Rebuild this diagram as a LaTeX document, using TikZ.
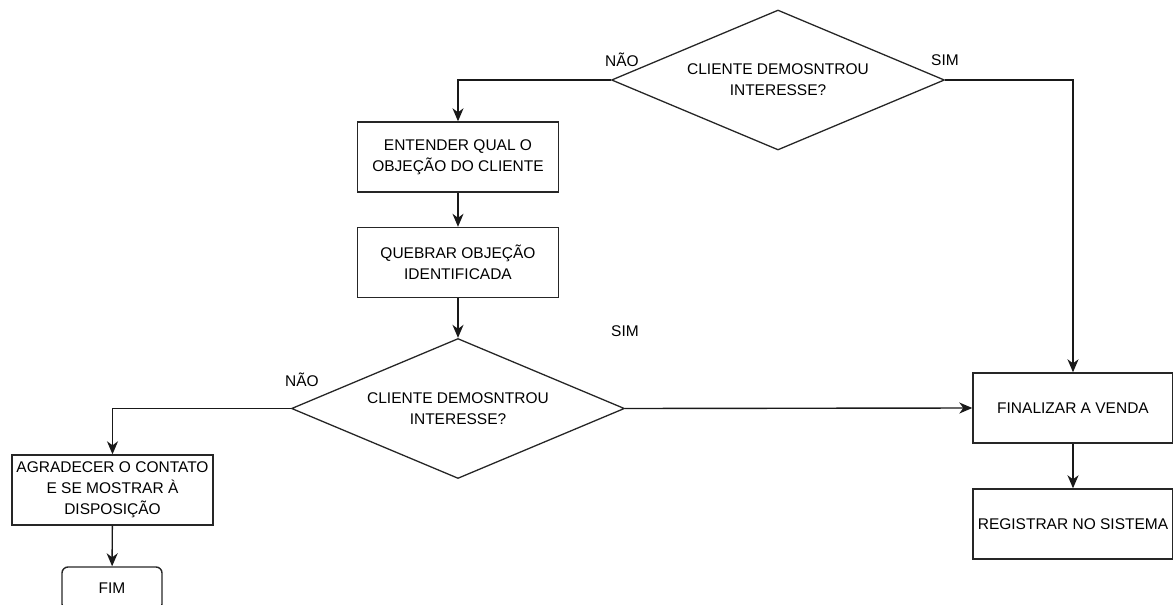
\documentclass[tikz,border=0pt]{standalone}
\usepackage{fontspec}
\setmainfont{Liberation Sans}
\usetikzlibrary{shapes.geometric,arrows.meta}

\tikzset{
  every node/.style={font=\fontsize{15.5}{21}\selectfont, text=black},
  stepbox/.style={draw=black!85, line width=1.4pt, rectangle, align=center,
    minimum width=201pt, minimum height=70pt, inner sep=0pt},
  endbox/.style={draw=black!85, line width=1.4pt, rectangle, rounded corners=6pt,
    align=center, minimum width=100pt, minimum height=43pt, inner sep=0pt},
  decision/.style={draw=black!85, line width=1.3pt, diamond, aspect=2.4, align=center,
    minimum width=333pt, minimum height=140pt, inner sep=0pt},
  flow/.style={draw=black!90, line width=1.4pt, -{Stealth[length=13pt,width=11pt,inset=4pt]}},
  answer/.style={inner sep=0pt}
}

\begin{document}
\begin{tikzpicture}[x=1pt, y=-1pt]
  \useasboundingbox (0,0) rectangle (1173,605);

  % decisions
  \node[decision] (ask1) at (778,80) {CLIENTE DEMOSNTROU\\INTERESSE?};
  \node[decision] (ask2) at (458,408.5) {CLIENTE DEMOSNTROU\\INTERESSE?};

  % process steps
  \node[stepbox] (understand) at (458,157) {ENTENDER QUAL O\\OBJEÇÃO DO CLIENTE};
  \node[stepbox] (overcome) at (458,262.5) {QUEBRAR OBJEÇÃO\\IDENTIFICADA};
  \node[stepbox] (thank) at (112.5,490) {AGRADECER O CONTATO\\E SE MOSTRAR À\\DISPOSIÇÃO};
  \node[endbox] (stop) at (112,588.5) {FIM};
  \node[stepbox, minimum width=200pt] (close) at (1073,408) {FINALIZAR A VENDA};
  \node[stepbox, minimum width=200pt] (record) at (1073,524) {REGISTRAR NO SISTEMA};

  % connectors
  \draw[flow] (ask1.west) -| (understand.north);
  \draw[flow] (ask1.east) -| (close.north);
  \draw[flow] (understand) -- (overcome);
  \draw[flow] (overcome) -- (ask2.north);
  \draw[flow] (ask2.west) -| (thank.north);
  \draw[flow] (ask2.east) -- (close.west);
  \draw[flow] (close) -- (record);
  \draw[flow] (thank) -- (stop);

  % branch labels
  \node[answer] (no1) at (622,60) {NÃO};
  \node[answer] (yes1) at (945,60) {SIM};
  \node[answer] (no2) at (302,380) {NÃO};
  \node[answer] (yes2) at (625,331) {SIM};
\end{tikzpicture}
\end{document}
